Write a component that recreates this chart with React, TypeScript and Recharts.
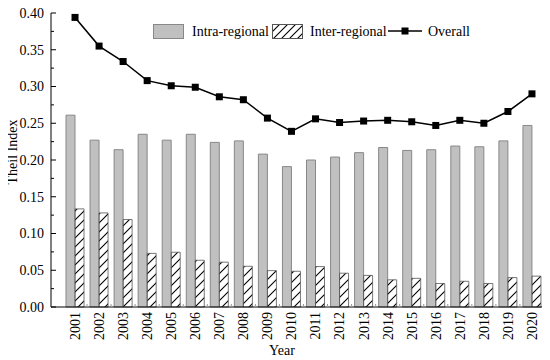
import React from 'react';
import { ComposedChart, Bar, Line, XAxis, YAxis, Legend } from 'recharts';

const years = ['2001','2002','2003','2004','2005','2006','2007','2008','2009','2010','2011','2012','2013','2014','2015','2016','2017','2018','2019','2020'];
const intraRegional = [0.261,0.227,0.214,0.235,0.227,0.235,0.224,0.226,0.208,0.191,0.200,0.204,0.210,0.217,0.213,0.214,0.219,0.218,0.226,0.247];
const interRegional = [0.1335,0.128,0.119,0.073,0.0745,0.0636,0.061,0.0554,0.0495,0.0486,0.055,0.046,0.043,0.037,0.039,0.032,0.035,0.032,0.040,0.042];
const overall = [0.394,0.355,0.334,0.308,0.301,0.299,0.286,0.282,0.257,0.239,0.256,0.251,0.253,0.254,0.252,0.247,0.254,0.250,0.266,0.290];
const yTicks = [0,0.025,0.05,0.075,0.1,0.125,0.15,0.175,0.2,0.225,0.25,0.275,0.3,0.325,0.35,0.375,0.4];

const data = years.map((y, i) => ({ year: y, intra: intraRegional[i], inter: interRegional[i], overall: overall[i] }));

const FONT = '"Liberation Serif", "Times New Roman", serif';
const textStyle = { fontFamily: FONT };

const YTick = (props: any) => {
  const { x, y, payload } = props;
  const v = payload.value as number;
  const major = Math.round(v * 1000) % 50 === 0;
  const axisX = x + 5;
  return (
    <g>
      <line x1={axisX} y1={y} x2={axisX + (major ? 5 : 3)} y2={y} stroke="#000" strokeWidth={1} />
      {major && (
        <text x={x - 2} y={y} dy="0.35em" textAnchor="end" style={textStyle} fontSize={14} fill="#000">
          {v.toFixed(2)}
        </text>
      )}
    </g>
  );
};

const XTick = (props: any) => {
  const { x, y, payload } = props;
  const axisY = y - 4;
  return (
    <g>
      <line x1={x + 12} y1={axisY} x2={x + 12} y2={axisY - 3} stroke="#999" strokeWidth={1} />
      <text x={x} y={y + 1} dy="0.35em" textAnchor="end" transform={`rotate(-90, ${x}, ${y + 1})`} style={textStyle} fontSize={14} fill="#000">
        {payload.value}
      </text>
    </g>
  );
};

const SquareDot = (props: any) => {
  const { cx, cy } = props;
  if (cx == null || cy == null) return null;
  return <rect x={cx - 3.5} y={cy - 3.5} width={7} height={7} fill="#000" />;
};

const LegendContent = () => (
  <svg width={542} height={40} style={{ display: 'block' }}>
    <defs>
      <pattern id="hatchLegend" patternUnits="userSpaceOnUse" width="8" height="8">
        <path d="M-2,2 L2,-2 M0,8 L8,0 M6,10 L10,6" stroke="#000" strokeWidth="1.1" />
      </pattern>
    </defs>
    <rect x={145.5} y={16.5} width={30} height={14} fill="#c0c0c0" stroke="#888" />
    <text x={184} y={28} style={textStyle} fontSize={14} fill="#000">Intra-regional</text>
    <rect x={264.5} y={16.5} width={30} height={14} fill="url(#hatchLegend)" stroke="#555" />
    <text x={302} y={28} style={textStyle} fontSize={14} fill="#000">Inter-regional</text>
    <line x1={380} y1={23} x2={414} y2={23} stroke="#000" strokeWidth={1.5} />
    <rect x={393.5} y={19.5} width={7} height={7} fill="#000" />
    <text x={420} y={28} style={textStyle} fontSize={14} fill="#000">Overall</text>
  </svg>
);

export default function App() {
  return (
    <div style={{ width: 542, height: 352 }}>
      <style>{`.recharts-surface { overflow: visible; }`}</style>
      <ComposedChart width={542} height={352} data={data} margin={{ top: 5, right: 6, bottom: 0, left: 0 }} barGap={0}>
        <defs>
          <pattern id="hatch" patternUnits="userSpaceOnUse" width="9" height="9">
            <path d="M-2,2 L2,-2 M0,9 L9,0 M7,11 L11,7" stroke="#000" strokeWidth="1.1" />
          </pattern>
        </defs>
        <XAxis
          dataKey="year"
          height={53}
          padding={{ left: 12, right: 0 }}
          tickLine={false}
          tickSize={0}
          tickMargin={4}
          interval={0}
          axisLine={{ stroke: '#000', strokeWidth: 1 }}
          tick={<XTick />}
          label={{
            content: () => (
              <text x={274} y={347} textAnchor="middle" style={textStyle} fontSize={14} fill="#000">Year</text>
            ),
          }}
        />
        <YAxis
          width={43}
          domain={[0, 0.4]}
          ticks={yTicks}
          interval={0}
          tickLine={false}
          tickSize={0}
          tickMargin={5}
          axisLine={{ stroke: '#000', strokeWidth: 1 }}
          tick={<YTick />}
          label={{
            content: () => (
              <text x={8.7} y={144} textAnchor="middle" transform="rotate(-90, 8.7, 144)" style={textStyle} fontSize={14} fill="#000">Theil Index</text>
            ),
          }}
        />
        <Legend
          verticalAlign="middle"
          layout="horizontal"
          align="center"
          wrapperStyle={{ top: 0, left: 0, width: 542, height: 40 }}
          content={<LegendContent />}
        />
        <Bar dataKey="intra" name="Intra-regional" barSize={9} fill="#c0c0c0" stroke="#888" strokeWidth={1} isAnimationActive={false} />
        <Bar dataKey="inter" name="Inter-regional" barSize={9} fill="url(#hatch)" stroke="#555" strokeWidth={0.8} isAnimationActive={false} />
        <Line dataKey="overall" name="Overall" stroke="#000" strokeWidth={1.5} dot={<SquareDot />} activeDot={false} isAnimationActive={false} />
      </ComposedChart>
    </div>
  );
}
